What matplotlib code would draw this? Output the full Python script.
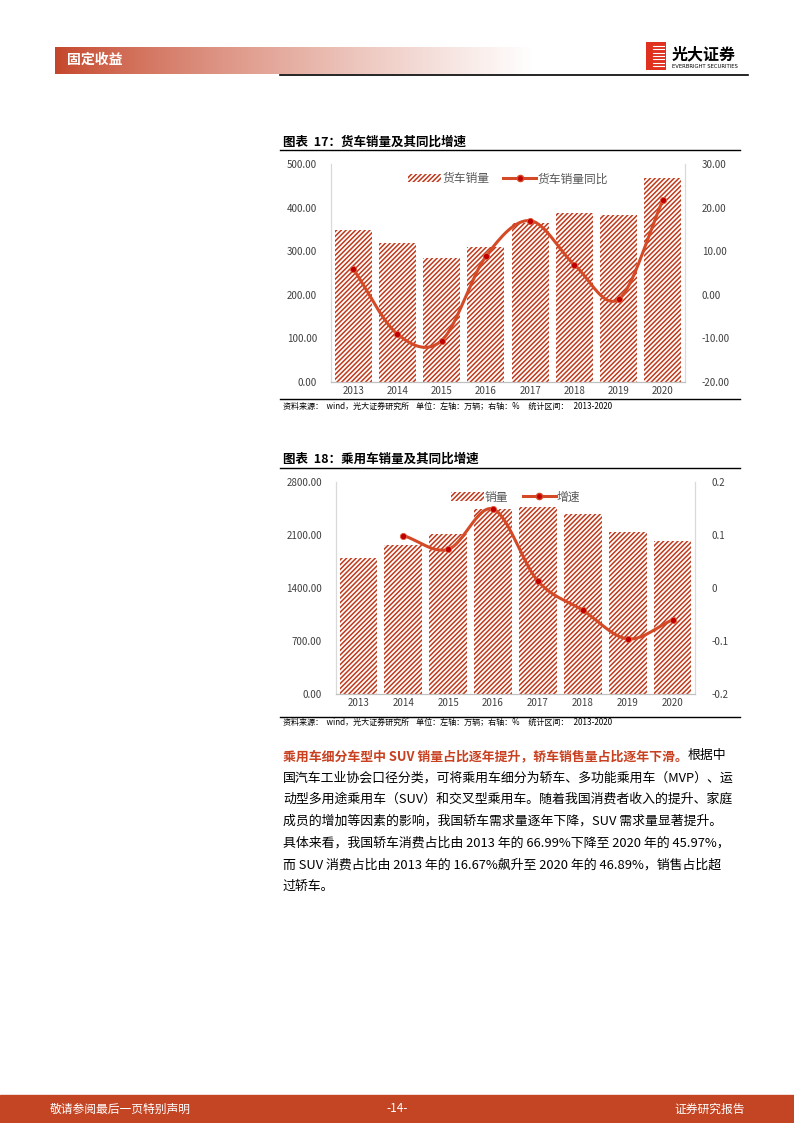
import numpy as np
import matplotlib
matplotlib.use("Agg")
import matplotlib.pyplot as plt
from matplotlib.patches import Rectangle
from matplotlib.lines import Line2D

plt.rcParams['font.family'] = ['Noto Sans CJK SC', 'DejaVu Sans']
plt.rcParams['hatch.linewidth'] = 1.1

years = ['2013', '2014', '2015', '2016', '2017', '2018', '2019', '2020']
truck_sales = [349, 318, 285, 310, 364, 388, 384, 468]
truck_yoy = [6.0, -9.0, -10.5, 8.8, 17.0, 6.9, -1.0, 21.7]
car_sales = [1793, 1970, 2115, 2438, 2472, 2371, 2144, 2018]
car_yoy = [None, 0.099, 0.073, 0.149, 0.013, -0.042, -0.096, -0.060]

W, H = 794, 1123
fig = plt.figure(figsize=(W/100, H/100), dpi=100)
RED = '#c0391b'
LINE = '#d44a26'

def ax_px(x0, y0, x1, y1, **kw):
    return fig.add_axes([x0/W, 1-y1/H, (x1-x0)/W, (y1-y0)/H], **kw)

def T(x, y, s, **kw):
    return fig.text(x/W, 1-y/H, s, **kw)

# header gradient
hx = ax_px(55, 47, 532, 74)
grad = np.linspace(0, 1, 256)
c0 = np.array([0.77, 0.27, 0.16]); c1 = np.array([1, 1, 1])
img = (c0[None, :]*(1-grad[:, None]**0.8) + c1[None, :]*grad[:, None]**0.8)[None, :, :]
hx.imshow(img, aspect='auto', extent=[0, 1, 0, 1])
hx.axis('off')
T(67, 60, '固定收益', color='white', fontsize=10, fontweight='bold', va='center')
fig.add_artist(Line2D([280/W, 748/W], [1-75/H, 1-75/H], color='black', lw=1.2))
# logo
lg = ax_px(646, 42, 666, 70)
lg.set_xlim(0, 1); lg.set_ylim(0, 1); lg.axis('off')
lg.add_patch(Rectangle((0, 0), 1, 1, color='#e0301e'))
for yy in np.linspace(0.15, 0.85, 7):
    lg.plot([0.35, 0.9], [yy, yy], color='white', lw=0.8)
T(672, 54, '光大证券', fontsize=11.5, fontweight='bold', va='center')
T(672, 67, 'EVERBRIGHT SECURITIES', fontsize=3.8, va='center', family='DejaVu Sans')

# footer
fig.add_artist(Rectangle((0, 0), 1, 28/H, transform=fig.transFigure, color='#c44524'))
T(50, 1109, '敬请参阅最后一页特别声明', color='white', fontsize=8.5, va='center')
T(397, 1109, '-14-', color='white', fontsize=8.5, va='center', ha='center')
T(745, 1109, '证券研究报告', color='white', fontsize=8.5, va='center', ha='right')

def smooth(xs, ys, n=30):
    xs = np.asarray(xs, float); ys = np.asarray(ys, float)
    P = np.column_stack([xs, ys])
    P = np.vstack([2*P[0]-P[1], P, 2*P[-1]-P[-2]])
    out = []
    for i in range(1, len(P)-2):
        p0, p1, p2, p3 = P[i-1], P[i], P[i+1], P[i+2]
        t = np.linspace(0, 1, n)[:, None]
        seg = 0.5*((2*p1) + (-p0+p2)*t + (2*p0-5*p1+4*p2-p3)*t**2 + (-p0+3*p1-3*p2+p3)*t**3)
        out.append(seg)
    out = np.vstack(out)
    return out[:, 0], out[:, 1]

def chart(title, ty, box, bars, line, ylim1, yt1, yfmt1, ylim2, yt2, yfmt2, lab1, lab2, srcy, topline, botline):
    T(283, ty, title, fontsize=9, fontweight='bold', va='center')
    fig.add_artist(Line2D([280/W, 740/W], [1-topline/H]*2, color='black', lw=1))
    fig.add_artist(Line2D([280/W, 740/W], [1-botline/H]*2, color='black', lw=1))
    T(283, srcy, '资料来源：  wind，光大证券研究所    单位：左轴：万辆；右轴：%     统计区间：   2013-2020',
      fontsize=5.8, va='center')
    ax = ax_px(*box)
    x = np.arange(len(years))
    ax.bar(x, bars, width=0.84, facecolor='white', edgecolor=RED, hatch='///////', lw=0, label=lab1)
    ax.set_xlim(-0.5, len(years)-0.5)
    ax.set_ylim(*ylim1); ax.set_yticks(yt1)
    ax.set_yticklabels([yfmt1(v) for v in yt1])
    ax.set_xticks(x); ax.set_xticklabels(years)
    ax2 = ax.twinx()
    xs = [i for i, v in enumerate(line) if v is not None]
    ys = [v for v in line if v is not None]
    sx, sy = smooth(xs, ys)
    ax2.plot(sx, sy, color=LINE, lw=2.2, zorder=3)
    ax2.plot(xs, ys, 'o', color='#c00000', ms=4.5, mec='#e06040', mew=0.6, zorder=4)
    ax2.set_ylim(*ylim2); ax2.set_yticks(yt2)
    ax2.set_yticklabels([yfmt2(v) for v in yt2])
    for a in (ax, ax2):
        a.spines['top'].set_visible(False)
        a.spines['left'].set_color('#d9d9d9'); a.spines['right'].set_color('#d9d9d9')
        a.spines['bottom'].set_color('#bfbfbf')
        a.tick_params(length=0, labelsize=7, colors='#404040', pad=3)
    ax.tick_params(axis='y', pad=10)
    ax2.tick_params(axis='y', pad=12)
    h1 = Rectangle((0, 0), 1, 1, facecolor='white', edgecolor=RED, hatch='///////', lw=0)
    h2 = Line2D([], [], color=LINE, lw=2.2, marker='o', ms=4.5, mfc='#c00000')
    ax.legend([h1, h2], [lab1, lab2], loc='upper center', ncol=2, frameon=False, fontsize=8.5,
              handlelength=2.8, handletextpad=0.1, columnspacing=1.2, bbox_to_anchor=(0.5, 1.01),
              labelcolor='#595959')
    return ax

chart('图表  17：货车销量及其同比增速', 142, (331, 164, 685, 382), truck_sales, truck_yoy,
      (0, 500), [0, 100, 200, 300, 400, 500], lambda v: f'{v:.2f}',
      (-20, 30), [-20, -10, 0, 10, 20, 30], lambda v: f'{v:.2f}',
      '货车销量', '货车销量同比', 406, 150, 399)

chart('图表  18：乘用车销量及其同比增速', 459, (336, 482, 695, 694), car_sales, car_yoy,
      (0, 2800), [0, 700, 1400, 2100, 2800], lambda v: f'{v:.2f}',
      (-0.2, 0.2), [-0.2, -0.1, 0, 0.1, 0.2], lambda v: ('0' if abs(v) < 1e-9 else f'{v:g}'),
      '销量', '增速', 722, 468, 717)

# paragraph
fs = 9.3
lines = [
    None,
    '国汽车工业协会口径分类，可将乘用车细分为轿车、多功能乘用车（MVP）、运',
    '动型多用途乘用车（SUV）和交叉型乘用车。随着我国消费者收入的提升、家庭',
    '成员的增加等因素的影响，我国轿车需求量逐年下降，SUV 需求量显著提升。',
    '具体来看，我国轿车消费占比由 2013 年的 66.99%下降至 2020 年的 45.97%，',
    '而 SUV 消费占比由 2013 年的 16.67%飙升至 2020 年的 46.89%，销售占比超',
    '过轿车。',
]
y0 = 756; dy = 21.8
t1 = T(283, y0, '乘用车细分车型中 SUV 销量占比逐年提升，轿车销售量占比逐年下滑。', fontsize=fs,
       fontweight='bold', color='#c8401f', va='center')
fig.canvas.draw()
bb = t1.get_window_extent()
T(bb.x1, y0, '根据中', fontsize=fs, va='center')
for i, s in enumerate(lines[1:], start=1):
    T(283, y0 + i*dy, s, fontsize=fs, va='center')

fig.savefig('out.png', dpi=100)
